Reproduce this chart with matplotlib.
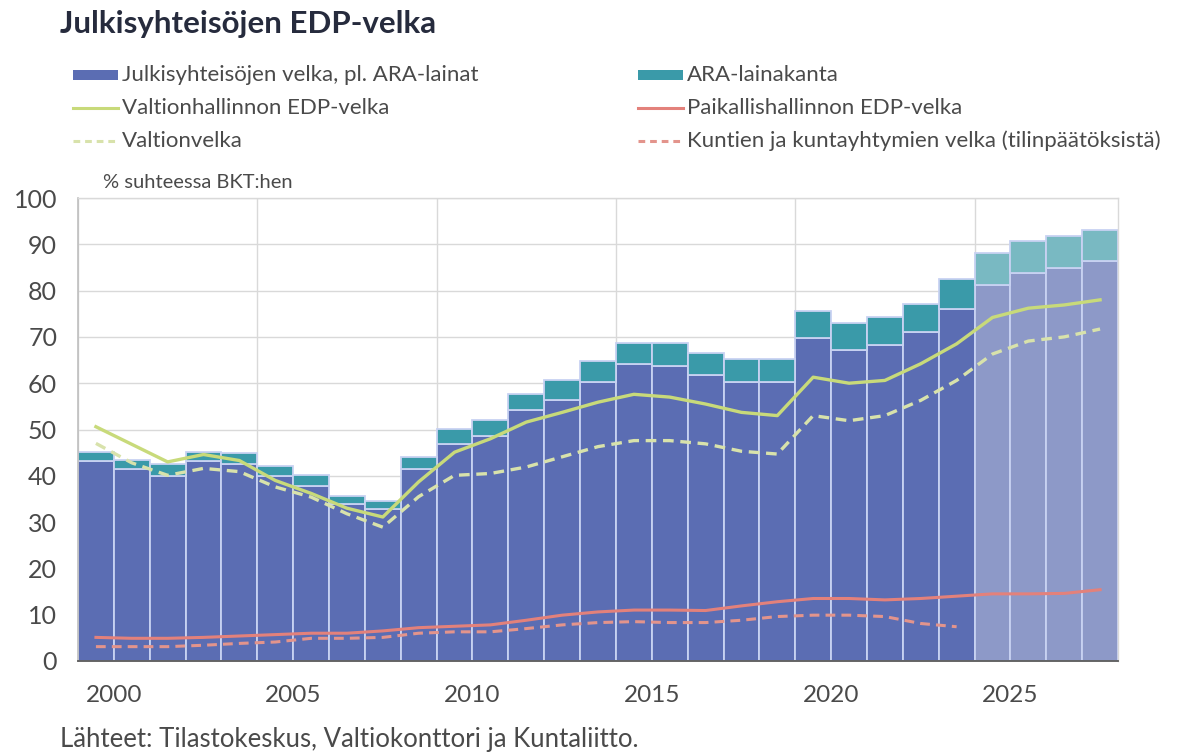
import matplotlib
matplotlib.use('Agg')
import matplotlib.pyplot as plt
from matplotlib.patches import Rectangle
from matplotlib.lines import Line2D

# ---------------- data ----------------
years = list(range(2000, 2029))
debt_excl_ara = [43.3, 41.5, 40.0, 43.2, 42.6, 40.0, 37.9, 33.9, 32.8, 41.5,
                 46.9, 48.7, 54.3, 56.3, 60.2, 64.1, 63.8, 61.7, 60.2, 60.2,
                 69.8, 67.2, 68.2, 71.1, 76.0, 81.3, 83.8, 84.8, 86.5]
ara_loans = [1.8, 1.9, 2.5, 1.9, 2.3, 2.2, 2.3, 1.8, 1.8, 2.6,
             3.2, 3.4, 3.4, 4.4, 4.6, 4.6, 4.9, 4.9, 5.1, 5.1,
             5.8, 5.8, 6.0, 6.1, 6.4, 6.9, 7.0, 7.1, 6.6]
central_gov_edp = [50.6, 46.8, 43.0, 44.6, 43.3, 39.0, 36.2, 33.0, 31.1, 38.7,
                   45.1, 48.0, 51.6, 53.7, 55.9, 57.6, 57.0, 55.5, 53.7, 53.0,
                   61.3, 60.0, 60.6, 64.2, 68.5, 74.2, 76.2, 76.9, 78.0]
state_debt = [47.0, 42.8, 40.1, 41.6, 40.9, 37.6, 35.4, 31.8, 28.9, 35.5,
              40.1, 40.5, 41.9, 44.1, 46.3, 47.6, 47.6, 46.9, 45.3, 44.7,
              53.0, 51.9, 53.0, 56.3, 60.6, 66.3, 69.1, 70.0, 71.7]
local_gov_edp = [5.1, 4.9, 4.9, 5.1, 5.4, 5.7, 6.0, 6.0, 6.5, 7.2,
                 7.5, 7.8, 8.8, 9.9, 10.6, 11.0, 11.0, 10.9, 11.9, 12.8,
                 13.5, 13.5, 13.2, 13.5, 14.0, 14.5, 14.5, 14.6, 15.4]
municipal_debt_years = list(range(2000, 2025))
municipal_debt = [3.1, 3.1, 3.1, 3.4, 3.8, 4.1, 4.9, 4.9, 5.1, 6.0,
                  6.3, 6.3, 7.0, 7.8, 8.3, 8.5, 8.3, 8.3, 8.8, 9.6,
                  9.9, 9.9, 9.6, 8.1, 7.4]
forecast_start = 2025
tick_years = [2000, 2005, 2010, 2015, 2020, 2025]

title = "Julkisyhteisöjen EDP-velka"
unit_label = "% suhteessa BKT:hen"
source = "Lähteet: Tilastokeskus, Valtiokonttori ja Kuntaliitto."
legend_left = ["Julkisyhteisöjen velka, pl. ARA-lainat",
               "Valtionhallinnon EDP-velka", "Valtionvelka"]
legend_right = ["ARA-lainakanta", "Paikallishallinnon EDP-velka",
                "Kuntien ja kuntayhtymien velka (tilinpäätöksistä)"]

# ---------------- style ----------------
FONT = 'Lato'
plt.rcParams['font.family'] = [FONT, 'DejaVu Sans']
C_BASE = '#5b6db3'
C_ARA = '#3a9aa9'
C_BASE_F = '#8d99c8'
C_ARA_F = '#79b9c2'
C_EDGE = '#c8d2f2'
C_GREEN = '#c8da7a'
C_GREEN_D = '#d8e2ab'
C_RED = '#e3817b'
C_RED_D = '#e3948c'
C_TXT = '#4a4a4a'

W, H = 1192, 753
fig = plt.figure(figsize=(W / 100, H / 100), dpi=100)
fig.patch.set_facecolor('white')


def fx(px):
    return px / W


def fy(py):
    return 1 - py / H


ax = fig.add_axes([fx(78), fy(661), fx(1118) - fx(78), fy(198) - fy(661)])

base_cols = [C_BASE_F if y >= forecast_start else C_BASE for y in years]
ara_cols = [C_ARA_F if y >= forecast_start else C_ARA for y in years]
ax.bar(years, debt_excl_ara, width=1.0, color=base_cols,
       edgecolor=C_EDGE, linewidth=1.3, zorder=2)
ax.bar(years, ara_loans, width=1.0, bottom=debt_excl_ara, color=ara_cols,
       edgecolor=C_EDGE, linewidth=1.3, zorder=2)

ax.plot(years, central_gov_edp, color=C_GREEN, lw=2.4, zorder=4)
ax.plot(years, state_debt, color=C_GREEN_D, lw=2.4, dashes=(3.2, 2.0), zorder=4)
ax.plot(years, local_gov_edp, color=C_RED, lw=2.2, zorder=4)
ax.plot(municipal_debt_years, municipal_debt, color=C_RED_D, lw=2.2,
        dashes=(3.2, 2.0), zorder=4)

ax.set_xlim(years[0] - 0.5, years[-1] + 0.5)
ax.set_ylim(0, 100)
ax.set_yticks(range(0, 101, 10))
ax.set_xticks([y + 0.5 for y in tick_years])
ax.set_xticklabels([str(y) for y in tick_years])
ax.set_xticks([years[0] - 0.5 + 5 * k for k in range(6)], minor=True)
ax.tick_params(axis='both', which='both', length=0)
ax.tick_params(axis='y', labelsize=18, labelcolor=C_TXT, pad=15)
ax.tick_params(axis='x', labelsize=17.5, labelcolor=C_TXT, pad=17)
ax.grid(axis='y', which='major', color='#d9d9d9', lw=1.0, zorder=0)
ax.grid(axis='x', which='minor', color='#d9d9d9', lw=1.0, zorder=0)
ax.set_axisbelow(True)
for s in ['top', 'right']:
    ax.spines[s].set_color('#d9d9d9')
    ax.spines[s].set_linewidth(1.0)
ax.spines['left'].set_color('#bfbfbf')
ax.spines['left'].set_linewidth(1.2)
ax.spines['bottom'].set_color('#595959')
ax.spines['bottom'].set_linewidth(1.3)
ax.spines['bottom'].set_zorder(5)

# ---------------- texts ----------------
fig.text(fx(60), fy(24), title, fontsize=22.5, fontweight='bold',
         color='#262b3d', va='center', ha='left')
fig.text(fx(103), fy(183), unit_label, fontsize=14.5, color=C_TXT,
         va='center', ha='left')
fig.text(fx(60), fy(740), source, fontsize=18.5, color=C_TXT,
         va='center', ha='left')

# ---------------- legend (manual) ----------------
rows_y = [75, 108, 141]


def legend_col(x0, labels, kinds):
    for lab, kind, yy in zip(labels, kinds, rows_y):
        if kind[0] == 'patch':
            fig.add_artist(Rectangle((fx(x0), fy(yy + 5)), fx(45), 10 / H,
                                     facecolor=kind[1], edgecolor='none',
                                     transform=fig.transFigure))
        else:
            ln = Line2D([fx(x0), fx(x0 + 45)], [fy(yy), fy(yy)],
                        color=kind[1], lw=2.2, transform=fig.transFigure)
            if kind[0] == 'dash':
                ln.set_dashes((2.2, 1.6))
            fig.add_artist(ln)
        fig.text(fx(x0 + 49), fy(yy), lab, fontsize=16, color=C_TXT,
                 va='center', ha='left')


legend_col(73, legend_left, [('patch', C_BASE), ('line', C_GREEN),
                             ('dash', C_GREEN_D)])
legend_col(638, legend_right, [('patch', C_ARA), ('line', C_RED),
                               ('dash', C_RED_D)])

fig.savefig('out.png', dpi=100, facecolor='white')
